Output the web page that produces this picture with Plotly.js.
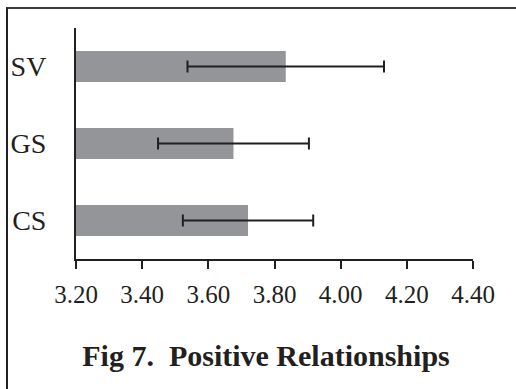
<!DOCTYPE html>
<html>
<head>
<meta charset="utf-8">
<script src="https://cdn.plot.ly/plotly-3.0.1.min.js"></script>
<style>
  html, body { margin: 0; padding: 0; background: #ffffff; }
  #wrap { position: relative; width: 516px; height: 389px; overflow: hidden; }
  #frame { position: absolute; left: 6px; top: 7px; width: 520px; height: 400px;
           border-left: 2px solid #231f20; border-top: 2px solid #3a3a3a; pointer-events: none; }
  #chart { position: absolute; left: 0; top: 0; width: 516px; height: 389px; }
</style>
</head>
<body>
<div id="wrap">
  <div id="chart"></div>
  <div id="frame"></div>
</div>
<script>
// Data
const categories = ['CS', 'GS', 'SV'];
const means = [3.72, 3.676, 3.834];
const errors = [0.197, 0.228, 0.297];
const tickValues = [3.2, 3.4, 3.6, 3.8, 4.0, 4.2, 4.4];
const tickLabels = ['3.20', '3.40', '3.60', '3.80', '4.00', '4.20', '4.40'];
const chartTitle = 'Fig 7.\u00a0 Positive Relationships';

const ink = '#231f20';
const serif = 'Liberation Serif, Times New Roman, serif';

const trace = {
  type: 'bar',
  orientation: 'h',
  y: categories,
  x: means,
  marker: { color: '#939598', line: { width: 0 } },
  error_x: { type: 'data', array: errors, visible: true, color: ink, thickness: 2, width: 6 },
  hoverinfo: 'none'
};

const layout = {
  width: 516,
  height: 389,
  margin: { l: 76, r: 43, t: 28, b: 130, pad: 0 },
  paper_bgcolor: '#ffffff',
  plot_bgcolor: '#ffffff',
  showlegend: false,
  bargap: 0.6,
  font: { family: serif, color: ink },
  title: {
    text: chartTitle,
    font: { family: serif, size: 30, color: ink, weight: 'bold' },
    x: 266 / 516, xref: 'container', xanchor: 'center',
    y: 1 - 355 / 389, yref: 'container', yanchor: 'middle'
  },
  xaxis: {
    range: [3.2, 4.4],
    tickvals: tickValues,
    ticktext: tickLabels,
    ticks: 'outside',
    ticklen: 8,
    tickwidth: 2,
    tickcolor: ink,
    showline: true,
    linecolor: ink,
    linewidth: 2,
    showgrid: false,
    zeroline: false,
    ticklabelstandoff: 4,
    tickfont: { family: serif, size: 25, color: ink },
    fixedrange: true
  },
  yaxis: {
    type: 'category',
    categoryorder: 'array',
    categoryarray: categories,
    range: [-0.5, 2.5],
    ticks: '',
    showline: true,
    linecolor: ink,
    linewidth: 2,
    showgrid: false,
    zeroline: false,
    ticklabelstandoff: 22,
    tickfont: { family: serif, size: 28, color: ink },
    fixedrange: true
  }
};

Plotly.newPlot('chart', [trace], layout, { staticPlot: true, displayModeBar: false });
</script>
</body>
</html>
